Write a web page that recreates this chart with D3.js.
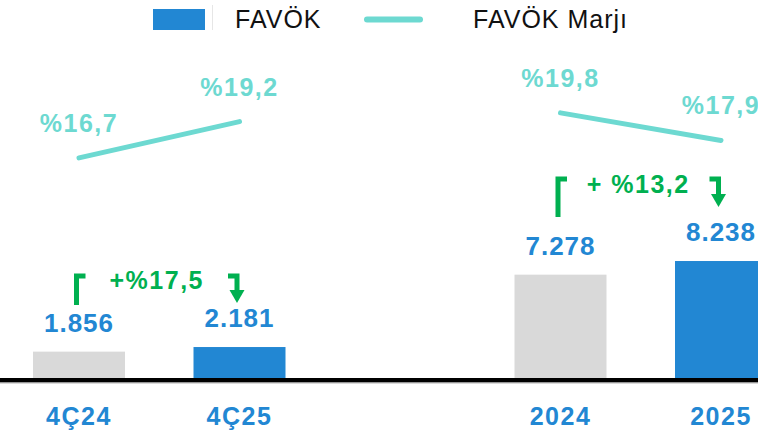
<!DOCTYPE html>
<html>
<head>
<meta charset="utf-8">
<script src="https://cdn.jsdelivr.net/npm/d3@7"></script>
<style>
  body { margin: 0; background: #fff; }
  svg { display: block; }
</style>
</head>
<body>
<div id="chart"></div>
<script>
// data
const categories = ["4Ç24", "4Ç25", "2024", "2025"];
const favok = [1856, 2181, 7278, 8238];
const favokLabels = ["1.856", "2.181", "7.278", "8.238"];
const marj = [16.7, 19.2, 19.8, 17.9];
const marjLabels = ["%16,7", "%19,2", "%19,8", "%17,9"];
const pairs = [[0, 1], [2, 3]];
const growthLabels = ["+%17,5", "+ %13,2"];

const width = 758, height = 435;
const blue = "#2287d3", gray = "#d9d9d9", teal = "#6dd9d1", green = "#00b050";
const font = "'Liberation Sans', Arial, sans-serif";
const baseY = 378;
const barW = 92;

const svg = d3.select("#chart").append("svg")
    .attr("width", width)
    .attr("height", height);

// a spacer slot separates the quarter pair from the year pair
const slots = [categories[0], categories[1], "_gap", categories[2], categories[3]];
const x = d3.scalePoint().domain(slots).range([79, 721]);
const yBar = d3.scaleLinear().domain([0, 10000]).range([baseY, baseY - 142]);
const yMarj = d3.scaleLinear().domain([0, 20]).range([400, 110]);

const rows = categories.map((c, i) => ({
    cat: c, val: favok[i], label: favokLabels[i],
    m: marj[i], mLabel: marjLabels[i], current: i % 2 == 1
}));

// bars
svg.selectAll("rect.bar")
    .data(rows)
    .enter().append("rect")
        .attr("class", "bar")
        .attr("x", d => x(d.cat) - barW / 2)
        .attr("y", d => yBar(d.val))
        .attr("width", barW)
        .attr("height", d => yBar(0) - yBar(d.val))
        .attr("fill", d => d.current ? blue : gray);

// bar values
svg.selectAll("text.val")
    .data(rows)
    .enter().append("text")
        .attr("class", "val")
        .attr("x", d => x(d.cat))
        .attr("y", d => yBar(d.val) - 20)
        .attr("text-anchor", "middle")
        .attr("font-family", font)
        .attr("font-weight", "bold")
        .attr("font-size", 26)
        .attr("letter-spacing", 1)
        .attr("fill", blue)
        .text(d => d.label);

// axis line
svg.append("line")
    .attr("x1", 0).attr("x2", width)
    .attr("y1", baseY + 2.3).attr("y2", baseY + 2.3)
    .attr("stroke", "#000")
    .attr("stroke-width", 4.6);
svg.append("line")
    .attr("x1", 0).attr("x2", width)
    .attr("y1", baseY + 5.2).attr("y2", baseY + 5.2)
    .attr("stroke", "#c8c8c8")
    .attr("stroke-width", 1);

// category labels
svg.selectAll("text.cat")
    .data(rows)
    .enter().append("text")
        .attr("class", "cat")
        .attr("x", d => x(d.cat))
        .attr("y", 425)
        .attr("text-anchor", "middle")
        .attr("font-family", font)
        .attr("font-weight", "bold")
        .attr("font-size", 25)
        .attr("letter-spacing", 1.5)
        .attr("fill", blue)
        .text(d => d.cat);

// margin lines, one per pair
const line = d3.line()
    .x(d => x(d.cat))
    .y(d => yMarj(d.m));

svg.selectAll("path.marj")
    .data(pairs)
    .enter().append("path")
        .attr("class", "marj")
        .attr("d", p => line(p.map(i => rows[i])))
        .attr("fill", "none")
        .attr("stroke", teal)
        .attr("stroke-width", 5)
        .attr("stroke-linecap", "round");

svg.selectAll("text.marj")
    .data(rows)
    .enter().append("text")
        .attr("class", "marj")
        .attr("x", d => x(d.cat))
        .attr("y", d => yMarj(d.m) - 26)
        .attr("text-anchor", "middle")
        .attr("font-family", font)
        .attr("font-weight", "bold")
        .attr("font-size", 25)
        .attr("letter-spacing", 1.5)
        .attr("fill", teal)
        .text(d => d.mLabel);

// growth annotations
const annLayout = [
    {top: 274, left: 31, tip: 29, textDy: 15},
    {top: 177, left: 40, tip: 30, textDy: 16}
];

pairs.forEach(function (p, k) {
    var a = annLayout[k];
    var xl = x(rows[p[0]].cat) - 2.5;
    var xr = x(rows[p[1]].cat) - 2.5;
    var g = svg.append("g").attr("class", "growth");

    g.append("path")
        .attr("d", `M${xl + 9},${a.top + 2}H${xl}V${a.top + a.left}`)
        .attr("fill", "none")
        .attr("stroke", green)
        .attr("stroke-width", 5)
        .attr("stroke-linejoin", "miter");

    g.append("path")
        .attr("d", `M${xr - 9},${a.top + 2}H${xr}V${a.top + a.tip - 12}`)
        .attr("fill", "none")
        .attr("stroke", green)
        .attr("stroke-width", 5)
        .attr("stroke-linejoin", "miter");

    g.append("path")
        .attr("d", `M${xr - 7.5},${a.top + a.tip - 13}L${xr + 7.5},${a.top + a.tip - 13}L${xr},${a.top + a.tip}Z`)
        .attr("fill", green);

    g.append("text")
        .attr("x", (xl + xr) / 2)
        .attr("y", a.top + a.textDy)
        .attr("text-anchor", "middle")
        .attr("font-family", font)
        .attr("font-weight", "bold")
        .attr("font-size", 25)
        .attr("letter-spacing", 1.5)
        .attr("fill", green)
        .text(growthLabels[k]);
});

// legend
const legend = svg.append("g").attr("class", "legend");
legend.append("rect")
    .attr("x", 153).attr("y", 9)
    .attr("width", 52).attr("height", 21)
    .attr("fill", blue);
legend.append("line")
    .attr("x1", 212.5).attr("x2", 212.5)
    .attr("y1", 5).attr("y2", 30)
    .attr("stroke", "#e6e6e6");
legend.append("text")
    .attr("x", 235).attr("y", 27.5)
    .attr("font-family", font)
    .attr("font-size", 25)
    .attr("letter-spacing", 1)
    .attr("fill", "#111")
    .text("FAVÖK");
legend.append("line")
    .attr("x1", 367).attr("x2", 420)
    .attr("y1", 19.5).attr("y2", 19.5)
    .attr("stroke", teal)
    .attr("stroke-width", 6)
    .attr("stroke-linecap", "round");
legend.append("text")
    .attr("x", 473).attr("y", 27.5)
    .attr("font-family", font)
    .attr("font-size", 25)
    .attr("letter-spacing", 1)
    .attr("fill", "#111")
    .text("FAVÖK Marjı");
</script>
</body>
</html>
